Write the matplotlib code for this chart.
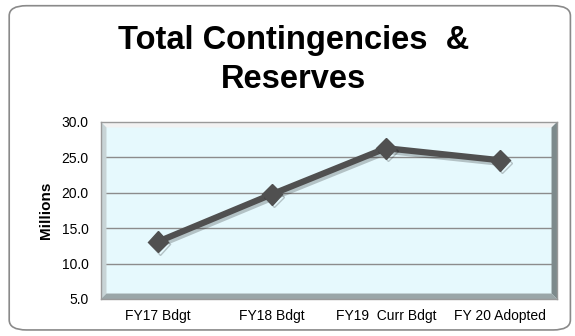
import matplotlib.pyplot as plt
import matplotlib.patheffects as pe
from matplotlib.patches import FancyBboxPatch, Polygon

plt.rcParams['font.family'] = ['Liberation Sans', 'DejaVu Sans']

categories = ['FY17 Bdgt', 'FY18 Bdgt', 'FY19  Curr Bdgt', 'FY 20 Adopted']
values = [13.1, 19.8, 26.3, 24.6]
yticks = [5.0, 10.0, 15.0, 20.0, 25.0, 30.0]

fig = plt.figure(figsize=(5.75, 3.36), dpi=100)

# rounded outer frame, kept behind the axes
frame = FancyBboxPatch((0.016, 0.018), 0.976, 0.965,
                       boxstyle='round,pad=0,rounding_size=0.03',
                       transform=fig.transFigure, facecolor='white',
                       edgecolor='#8a8a8a', linewidth=1.2, zorder=-5)
fig.patches.append(frame)

fig.text(0.511, 1 - 49 / 336, 'Total Contingencies  &', ha='center', va='baseline',
         fontsize=23.5, fontweight='bold')
fig.text(0.511, 1 - 88 / 336, 'Reserves', ha='center', va='baseline',
         fontsize=23.5, fontweight='bold')

ax = fig.add_axes([101 / 575, 1 - 299 / 336, 456 / 575, 177 / 336])
ax.set_facecolor('#e6f9fd')

x = range(len(categories))
ax.plot(x, values, color='#505050', linewidth=4.5, marker='D', markersize=10.5,
        solid_capstyle='round', zorder=5,
        path_effects=[pe.SimpleLineShadow(offset=(1.5, -2), shadow_color='black', alpha=0.22),
                      pe.Normal()])

ax.set_xlim(-0.5, len(categories) - 0.5)
ax.set_ylim(5, 30)
ax.set_yticks(yticks)
ax.set_yticklabels([f'{v:.1f}' for v in yticks])
ax.set_xticks(list(x))
ax.set_xticklabels(categories)
ax.tick_params(length=0, labelsize=10, colors='black')
ax.tick_params(axis='x', pad=7)
ax.tick_params(axis='y', pad=9)
for v in yticks[1:-1]:
    ax.axhline(v, color='#8c8c8c', linewidth=1.0, zorder=1)
ax.set_ylabel('Millions', fontsize=11, fontweight='bold', labelpad=6)

for s in ax.spines.values():
    s.set_color('#9a9a9a')
    s.set_linewidth(1.0)

# bevelled border around the plot area
b = 0.012
by = b * 456 / 177
t = ax.transAxes
ax.add_patch(Polygon([(0, 1), (1, 1), (1 - b, 1 - by), (b, 1 - by)], closed=True,
                     transform=t, facecolor='#f2f2f2', edgecolor='none', zorder=2))
ax.add_patch(Polygon([(0, 0), (0, 1), (b, 1 - by), (b, by)], closed=True,
                     transform=t, facecolor='#c8d4d6', edgecolor='none', zorder=2))
ax.add_patch(Polygon([(1, 0), (1, 1), (1 - b, 1 - by), (1 - b, by)], closed=True,
                     transform=t, facecolor='#7d8a8c', edgecolor='none', zorder=2))
ax.add_patch(Polygon([(0, 0), (1, 0), (1 - b, by), (b, by)], closed=True,
                     transform=t, facecolor='#9aa6a8', edgecolor='none', zorder=2))

fig.savefig('out.png', dpi=100)
